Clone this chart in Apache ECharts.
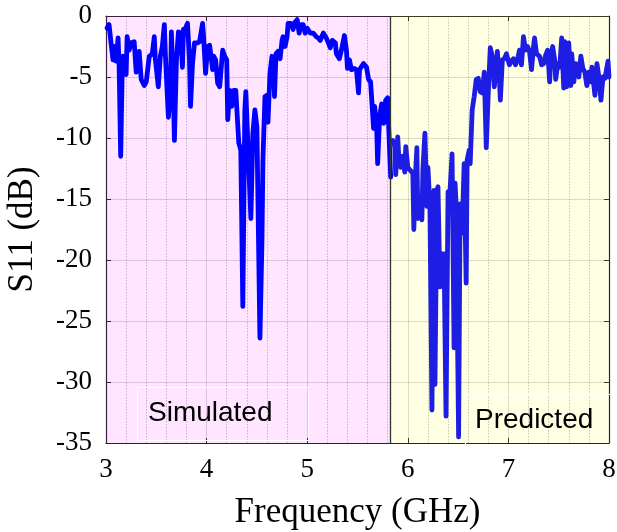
<!DOCTYPE html>
<html>
<head>
<meta charset="utf-8">
<script src="https://cdn.jsdelivr.net/npm/echarts@6/dist/echarts.min.js"></script>
<style>html,body{margin:0;padding:0;background:#fff;}#c{width:617px;height:532px;}</style>
</head>
<body>
<div id="c"></div>
<script>
// Simulated S11 (3 – 5.83 GHz)
var freqSim = [3.01,3.03,3.05,3.07,3.09,3.10,3.12,3.13,3.146,3.16,3.17,3.20,3.21,3.23,3.25,3.28,3.30,3.33,3.35,3.38,3.40,3.43,3.46,3.48,3.49,3.52,3.54,3.56,3.58,3.59,3.62,3.64,3.65,3.67,3.68,3.70,3.72,3.74,3.76,3.77,3.79,3.81,3.83,3.84,3.86,3.88,3.91,3.93,3.96,3.97,3.99,4.01,4.03,4.06,4.07,4.09,4.11,4.13,4.16,4.18,4.20,4.21,4.23,4.25,4.27,4.29,4.32,4.34,4.36,4.38,4.39,4.41,4.44,4.46,4.48,4.50,4.53,4.55,4.56,4.58,4.60,4.61,4.63,4.65,4.67,4.675,4.69,4.71,4.73,4.75,4.76,4.78,4.80,4.81,4.84,4.86,4.88,4.90,4.92,4.94,4.96,4.98,5.00,5.03,5.06,5.09,5.11,5.13,5.16,5.19,5.21,5.23,5.25,5.28,5.29,5.32,5.34,5.37,5.39,5.40,5.42,5.44,5.47,5.49,5.51,5.52,5.56,5.59,5.61,5.63,5.66,5.67,5.69,5.70,5.72,5.74,5.76,5.78,5.80,5.81,5.83];
var s11Sim = [-1.0,-0.7,-2.2,-3.6,-2.5,-3.7,-1.8,-3.9,-11.5,-5.0,-3.3,-4.8,-1.7,-2.8,-2.2,-2.1,-4.6,-2.9,-5.2,-5.7,-5.4,-3.3,-3.1,-1.7,-3.5,-5.8,-3.3,-2.5,-0.7,-3.1,-8.3,-6.3,-1.3,-6.3,-10.2,-3.6,-1.3,-1.4,-4.2,-1.1,-1.0,-0.6,-3.6,-7.4,-3.9,-2.2,-2.2,-2.1,-0.6,-1.7,-4.7,-2.5,-2.4,-4.4,-3.3,-3.6,-5.5,-5.8,-2.8,-3.3,-3.6,-8.5,-6.1,-7.4,-6.1,-6.1,-10.4,-11.0,-23.8,-7.7,-6.2,-10.4,-16.6,-9.6,-7.7,-9.1,-26.4,-18.6,-11.8,-6.6,-6.5,-8.7,-4.7,-3.3,-5.0,-6.6,-3.1,-2.9,-3.5,-2.0,-1.7,-2.5,-1.7,-0.6,-0.6,-1.1,-0.5,-0.3,-1.4,-0.7,-0.7,-1.4,-1.0,-1.4,-1.4,-1.7,-1.8,-2.0,-1.4,-1.8,-2.2,-2.6,-2.0,-2.2,-3.1,-3.5,-2.8,-1.6,-2.8,-4.3,-3.6,-4.4,-4.3,-4.4,-6.3,-4.4,-3.9,-4.2,-5.2,-5.4,-9.2,-7.4,-8.8,-12.1,-8.3,-7.2,-8.8,-6.9,-6.7,-9.1,-13.2];
// Predicted S11 (5.83 – 8 GHz)
var freqPred = [5.83,5.85,5.87,5.88,5.90,5.91,5.93,5.95,5.97,5.98,6.00,6.02,6.05,6.06,6.08,6.09,6.10,6.12,6.14,6.15,6.17,6.19,6.20,6.22,6.24,6.26,6.27,6.29,6.30,6.32,6.34,6.36,6.38,6.40,6.42,6.44,6.46,6.47,6.48,6.505,6.52,6.54,6.56,6.58,6.59,6.61,6.62,6.64,6.66,6.68,6.70,6.72,6.74,6.76,6.78,6.80,6.82,6.84,6.86,6.88,6.89,6.91,6.92,6.94,6.96,6.98,7.01,7.03,7.05,7.07,7.09,7.11,7.13,7.15,7.17,7.19,7.21,7.23,7.25,7.26,7.28,7.31,7.33,7.35,7.37,7.39,7.41,7.42,7.44,7.46,7.47,7.49,7.51,7.53,7.55,7.56,7.58,7.60,7.62,7.63,7.65,7.67,7.70,7.72,7.74,7.76,7.78,7.80,7.82,7.83,7.86,7.88,7.90,7.92,7.94,7.96,7.99,8.00];
var s11Pred = [-10.4,-10.2,-10.7,-13.0,-9.9,-11.5,-12.4,-11.5,-12.8,-10.7,-12.4,-12.6,-12.9,-17.5,-12.4,-10.8,-16.6,-14.8,-16.7,-12.6,-9.6,-15.6,-12.4,-15.6,-32.3,-14.3,-30.2,-14.3,-14.0,-22.2,-19.5,-19.5,-32.8,-14.4,-14.3,-11.3,-27.2,-13.7,-15.4,-34.5,-15.4,-17.8,-12.1,-21.9,-11.8,-11.0,-12.1,-7.7,-6.6,-5.2,-5.1,-6.2,-6.3,-4.6,-10.8,-6.3,-2.6,-3.3,-5.8,-4.2,-2.9,-5.0,-6.9,-3.6,-3.5,-3.1,-4.0,-3.7,-3.5,-4.0,-3.6,-2.8,-4.0,-1.7,-2.8,-2.5,-2.9,-4.4,-2.5,-1.8,-3.1,-3.3,-4.0,-3.9,-3.2,-2.8,-5.4,-3.6,-2.5,-3.6,-5.2,-3.9,-4.2,-1.8,-5.9,-2.1,-5.8,-2.2,-5.7,-3.1,-5.4,-3.9,-5.0,-3.3,-4.3,-4.6,-5.7,-4.6,-5.4,-4.2,-6.5,-3.9,-5.0,-6.9,-5.0,-5.1,-3.7,-5.0];
var xTicks = [3,4,5,6,7,8];
var yTicks = [-35,-30,-25,-20,-15,-10,-5,0];
var boundary = 5.83;
var regionLabels = ['Simulated','Predicted'];

function pairs(xs, ys){ return xs.map(function(x,i){ return [x, ys[i]]; }); }

var chart = echarts.init(document.getElementById('c'), null, {renderer:'canvas'});
var serif = 'Liberation Serif, Times New Roman, serif';
var sans = 'Liberation Sans, Arial, sans-serif';
var axisCol = '#262626';

var option = {
  animation: false,
  backgroundColor: '#ffffff',
  grid: {left:106, right:8, top:16, bottom:89, containLabel:false, outerBoundsMode:'none'},
  xAxis: [{
    type:'value', min:xTicks[0], max:xTicks[xTicks.length-1], interval:1, position:'bottom',
    name:'Frequency (GHz)', nameLocation:'middle', nameGap:52,
    nameTextStyle:{fontFamily:serif, fontSize:35, color:'#000'},
    axisLine:{show:true, onZero:false, lineStyle:{color:axisCol, width:1.2}},
    axisTick:{show:true, inside:true, length:5, lineStyle:{color:axisCol}},
    axisLabel:{fontFamily:serif, fontSize:27, color:'#000', margin:13},
    splitLine:{show:true, lineStyle:{color:'rgba(38,38,38,0.18)', width:1}},
    minorTick:{show:false, splitNumber:5},
    minorSplitLine:{show:true, lineStyle:{color:'rgba(38,38,38,0.28)', width:1, type:[1.5,1.5]}}
  },{
    type:'value', min:xTicks[0], max:xTicks[xTicks.length-1], interval:1, position:'top',
    axisLine:{show:true, onZero:false, lineStyle:{color:axisCol, width:1.2}},
    axisTick:{show:true, inside:true, length:5, lineStyle:{color:axisCol}},
    axisLabel:{show:false}, splitLine:{show:false}
  }],
  yAxis: [{
    type:'value', min:yTicks[0], max:yTicks[yTicks.length-1], interval:5, position:'left',
    name:'S11 (dB)', nameLocation:'middle', nameGap:66, nameRotate:90,
    nameTextStyle:{fontFamily:serif, fontSize:35, color:'#000'},
    axisLine:{show:true, onZero:false, lineStyle:{color:axisCol, width:1.2}},
    axisTick:{show:true, inside:true, length:5, lineStyle:{color:axisCol}},
    axisLabel:{fontFamily:serif, fontSize:27, color:'#000', margin:14},
    splitLine:{show:true, lineStyle:{color:'rgba(38,38,38,0.18)', width:1}}
  },{
    type:'value', min:yTicks[0], max:yTicks[yTicks.length-1], interval:5, position:'right',
    axisLine:{show:true, onZero:false, lineStyle:{color:axisCol, width:1.2}},
    axisTick:{show:true, inside:true, length:5, lineStyle:{color:axisCol}},
    axisLabel:{show:false}, splitLine:{show:false}
  }],
  series: [{
    name:'Simulated', type:'line', xAxisIndex:0, yAxisIndex:0,
    data: pairs(freqSim, s11Sim), showSymbol:false, symbol:'none',
    lineStyle:{color:'#0000ff', width:4.8, join:'round', cap:'round'},
    z:3,
    markArea:{silent:true, data:[
      [{xAxis:xTicks[0], itemStyle:{color:'rgba(255,0,255,0.1)'}},{xAxis:boundary}],
      [{xAxis:boundary, itemStyle:{color:'rgba(255,255,0,0.11)'}},{xAxis:xTicks[xTicks.length-1]}]
    ]},
    markLine:{silent:true, symbol:'none', label:{show:false},
      lineStyle:{color:'#333333', width:1.3, type:'solid'},
      data:[{xAxis:boundary}]}
  },{
    name:'Predicted', type:'line', xAxisIndex:0, yAxisIndex:0,
    data: pairs(freqPred, s11Pred), showSymbol:false, symbol:'none',
    lineStyle:{color:'#1d1de3', width:4.8, join:'round', cap:'round'},
    z:3
  }],
  graphic: [
    {type:'rect', left:137, top:387, shape:{width:171, height:53}, style:{fill:'rgba(255,255,255,0)', stroke:'#ffffff', lineWidth:1}, z:10},
    {type:'text', left:148, top:399, style:{text:regionLabels[0], font:'28px ' + sans, fill:'#000'}, z:11},
    {type:'rect', left:465, top:394, shape:{width:150, height:55}, style:{fill:'rgba(255,255,255,0)', stroke:'#ffffff', lineWidth:1}, z:10},
    {type:'text', left:475, top:406, style:{text:regionLabels[1], font:'28px ' + sans, fill:'#000'}, z:11}
  ]
};
chart.setOption(option);
</script>
</body>
</html>
